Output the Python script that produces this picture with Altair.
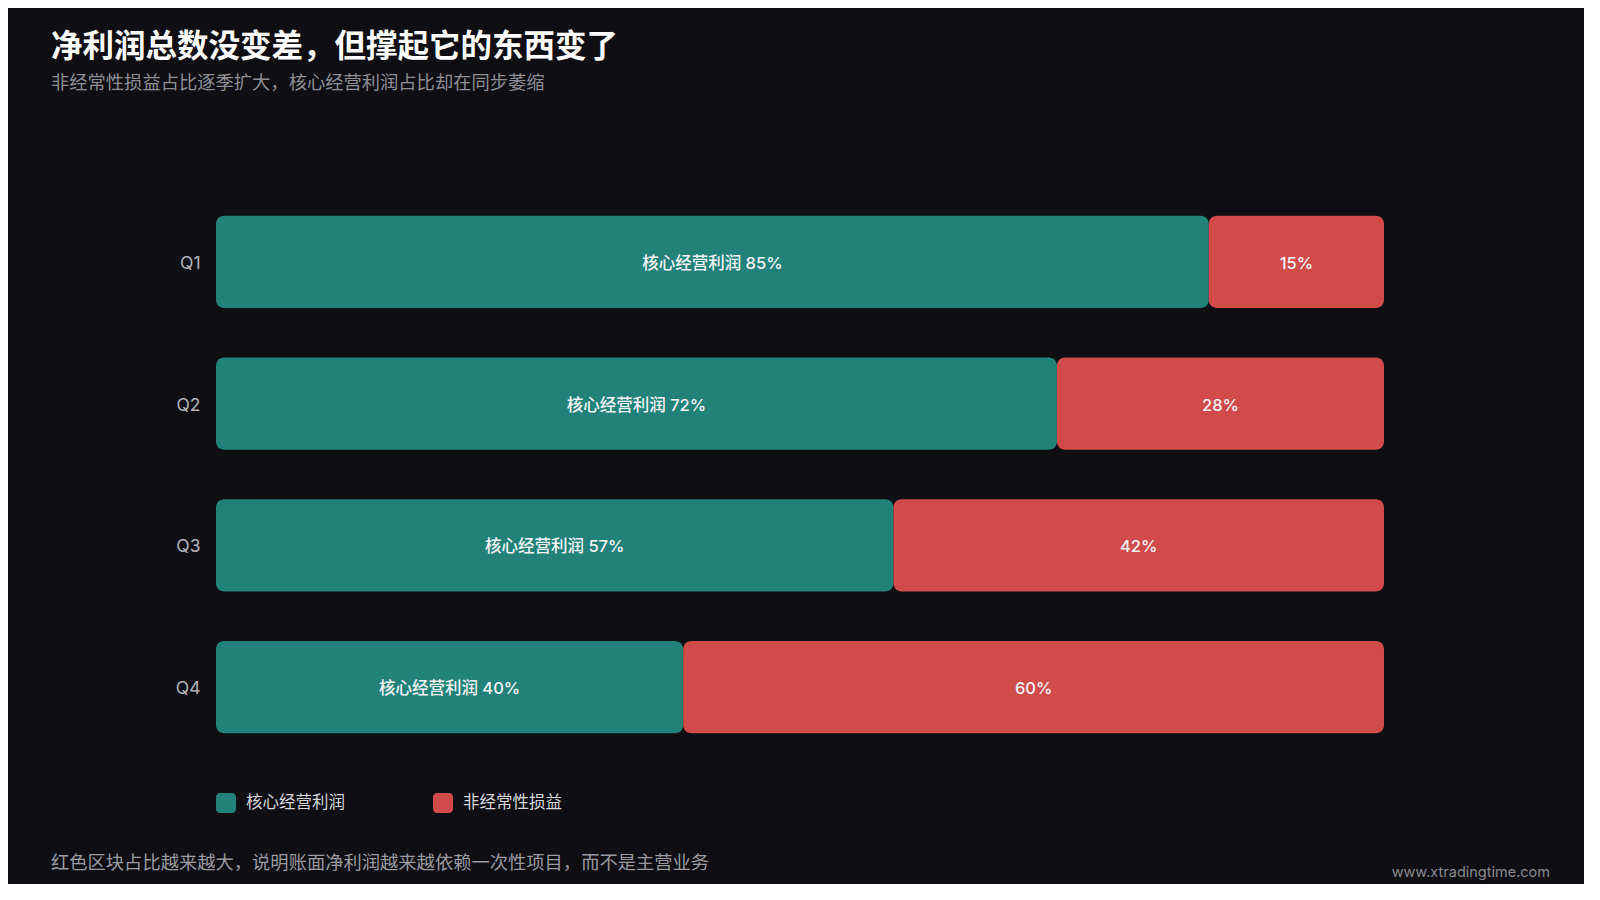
import altair as alt
import pandas as pd

quarters = ["Q1", "Q2", "Q3", "Q4"]
core = [85, 72, 57, 40]
nonrec = [15, 28, 42, 60]
series = ["核心经营利润", "非经常性损益"]
colors = ["#22827A", "#D04B4A"]

title_text = "净利润总数没变差，但撑起它的东西变了"
subtitle_text = "非经常性损益占比逐季扩大，核心经营利润占比却在同步萎缩"
footer_text = "红色区块占比越来越大，说明账面净利润越来越依赖一次性项目，而不是主营业务"
source_text = "www.xtradingtime.com"

rows = []
for q, c, n in zip(quarters, core, nonrec):
    rows.append({"q": q, "series": series[0], "order": 0, "value": c, "nonrec": n,
                 "label": f"{series[0]} {c}%"})
    rows.append({"q": q, "series": series[1], "order": 1, "value": n, "nonrec": n,
                 "label": f"{n}%"})
df = pd.DataFrame(rows)

FONT = "Inter, 'Noto Sans CJK SC'"

# the red block is drawn at its share from the right end; core fills the rest
base = alt.Chart(df).transform_calculate(
    split="(100 - datum.nonrec) / 100",
).transform_calculate(
    start="datum.order == 0 ? 0 : datum.split",
    end="datum.order == 0 ? datum.split : 1",
).transform_calculate(
    mid="(datum.start + datum.end) / 2",
)

yenc = alt.Y("q:N", sort=quarters, title=None,
             scale=alt.Scale(paddingInner=0.35, paddingOuter=0.175),
             axis=alt.Axis(domain=False, ticks=False, grid=False, labelPadding=16,
                           labelOffset=2,
                           labelFontSize=17.5, labelColor="#B4B4BA", labelFont=FONT))
xscale = alt.Scale(domain=[0, 1], nice=False, zero=True)

bars = base.mark_bar(cornerRadius=8).encode(
    y=yenc,
    x=alt.X("start:Q", scale=xscale, axis=None),
    x2="end:Q",
    color=alt.Color("series:N", sort=series,
                    scale=alt.Scale(domain=series, range=colors),
                    legend=alt.Legend(
                        title=None, orient="none", legendX=0, legendY=602,
                        direction="horizontal", columnPadding=88,
                        symbolType="M-0.6,-1H0.6A0.4,0.4 0 0 1 1,-0.6V0.6A0.4,0.4 0 0 1 0.6,1H-0.6A0.4,0.4 0 0 1 -1,0.6V-0.6A0.4,0.4 0 0 1 -0.6,-1Z",
                        symbolSize=400, symbolStrokeWidth=0, symbolOpacity=1,
                        labelFontSize=16.5, labelColor="#D8D8DC", labelFont=FONT,
                        labelOffset=10)),
)

texts = base.mark_text(font=FONT, fontSize=16.5, fontWeight=500, color="#F4F4F6",
                       align="center", baseline="middle", dy=2).encode(
    y=alt.Y("q:N", sort=quarters),
    x=alt.X("mid:Q", scale=xscale),
    text="label:N",
)

footer = alt.Chart(pd.DataFrame({"t": [footer_text]})).mark_text(
    font=FONT, fontSize=18.3, color="#9A9AA0", align="left", baseline="middle"
).encode(x=alt.value(-165), y=alt.value(673), text="t:N")

source = alt.Chart(pd.DataFrame({"t": [source_text]})).mark_text(
    font=FONT, fontSize=14.5, color="#8A8A90", align="right", baseline="middle"
).encode(x=alt.value(1334), y=alt.value(682), text="t:N")

chart = alt.layer(bars, texts, footer, source).properties(
    width=1168, height=567,
    padding={"left": 208, "top": 183, "right": 200, "bottom": 126},
    autosize=alt.AutoSizeParams(type="none"),
    background="#0E0E13",
    title=alt.TitleParams(
        text=title_text, subtitle=subtitle_text, anchor="start", frame="group",
        dx=-165, offset=99, font=FONT, fontSize=31.5, fontWeight="bold", color="#FFFFFF",
        subtitleFont=FONT, subtitleFontSize=18.3, subtitleColor="#8E8E94",
        subtitlePadding=11,
    ),
).configure_view(stroke=None)

chart.save("out.html", embed_options={"renderer": "svg", "actions": False})
